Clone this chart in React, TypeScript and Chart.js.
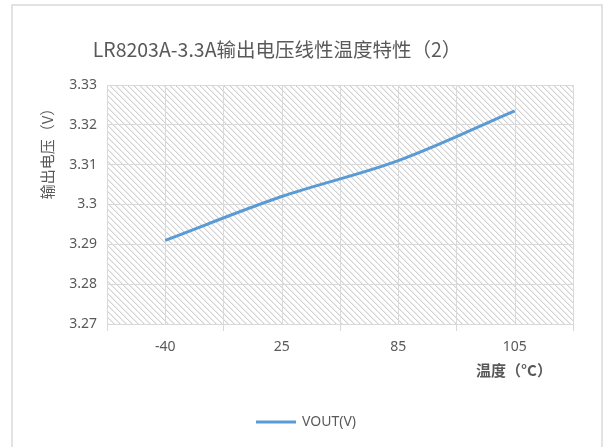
import React, { useEffect, useRef } from 'react';
import { Chart, registerables } from 'chart.js';

Chart.register(...registerables);

const categories = ['-40', '25', '85', '105'];
const vout = [3.291, 3.302, 3.311, 3.3235];
const yTickLabels = ['3.27', '3.28', '3.29', '3.3', '3.31', '3.32', '3.33'];
const yMin = 3.27;
const yMax = 3.33;
const yStep = 0.01;
const titleText = 'LR8203A-3.3A输出电压线性温度特性（2）';
const yAxisTitle = '输出电压（V）';
const xAxisTitle = '温度（°C）';
const seriesName = 'VOUT(V)';

const TEXT = '#595959';
const GRID = '#d9d9d9';
const LINE = '#5b9bd5';
const LATIN = '"Noto Sans", "Open Sans", sans-serif';
const CJK = '"Noto Sans CJK SC", "Noto Sans", sans-serif';

const decor = {
  id: 'decor',
  beforeDraw(chart: any) {
    const { ctx, chartArea: a } = chart;
    ctx.save();
    ctx.fillStyle = '#ffffff';
    ctx.fillRect(0, 0, chart.width, chart.height);
    ctx.strokeStyle = GRID;
    ctx.lineWidth = 1.5;
    ctx.strokeRect(12, 5, 590, 460);
    const p = document.createElement('canvas');
    p.width = 6;
    p.height = 6;
    const pc = p.getContext('2d')!;
    pc.fillStyle = '#ffffff';
    pc.fillRect(0, 0, 6, 6);
    for (let i = 0; i < 6; i++) {
      pc.fillStyle = '#d2d2d2';
      pc.fillRect(i, i, 1, 1);
      pc.fillStyle = '#ebebeb';
      pc.fillRect((i + 1) % 6, i, 1, 1);
    }
    const pat = ctx.createPattern(p, 'repeat');
    if (pat) {
      ctx.fillStyle = pat;
      ctx.fillRect(a.left, a.top, a.right - a.left, a.bottom - a.top);
    }
    ctx.restore();
  },
  beforeDatasetsDraw(chart: any) {
    const { ctx, chartArea: a } = chart;
    const xs = chart.scales.x;
    ctx.save();
    ctx.strokeStyle = GRID;
    ctx.lineWidth = 1;
    for (let i = 0; i < categories.length; i++) {
      const px = Math.round(xs.getPixelForValue(i)) + 0.5;
      ctx.beginPath();
      ctx.moveTo(px, a.top);
      ctx.lineTo(px, a.bottom);
      ctx.stroke();
    }
    ctx.restore();
  },
  afterDraw(chart: any) {
    const { ctx } = chart;
    ctx.save();
    ctx.fillStyle = TEXT;
    ctx.textAlign = 'center';
    ctx.textBaseline = 'middle';
    ctx.font = `19.5px ${CJK}`;
    ctx.fillText(titleText, 277, 50);

    ctx.save();
    ctx.translate(47, 150);
    ctx.rotate(-Math.PI / 2);
    ctx.font = `15px ${CJK}`;
    ctx.fillText(yAxisTitle, 0, 0);
    ctx.restore();

    ctx.font = `bold 15px ${CJK}`;
    ctx.fillText(xAxisTitle, 514, 370);

    ctx.strokeStyle = LINE;
    ctx.lineWidth = 3;
    ctx.beginPath();
    ctx.moveTo(256, 422);
    ctx.lineTo(296, 422);
    ctx.stroke();
    ctx.textAlign = 'left';
    ctx.font = `14px ${LATIN}`;
    ctx.fillText(seriesName, 302, 422);
    ctx.restore();
  },
};

export default function App() {
  const ref = useRef<HTMLCanvasElement | null>(null);
  useEffect(() => {
    if (!ref.current) return;
    const chart = new Chart(ref.current, {
      type: 'line',
      data: {
        labels: categories,
        datasets: [
          {
            label: seriesName,
            data: vout,
            borderColor: LINE,
            backgroundColor: LINE,
            borderWidth: 3,
            pointRadius: 0,
            tension: 0.35,
            fill: false,
          },
        ],
      },
      options: {
        responsive: false,
        animation: false,
        devicePixelRatio: 1,
        layout: { padding: { top: 85, right: 33, left: 0, bottom: 0 } },
        plugins: {
          legend: { display: false },
          title: { display: false },
          tooltip: { enabled: false },
        },
        scales: {
          x: {
            type: 'category',
            offset: true,
            grid: { offset: true, color: GRID, tickLength: 7, tickColor: GRID },
            border: { color: GRID },
            ticks: { color: TEXT, font: { family: LATIN, size: 14 }, padding: 8, maxRotation: 0 },
            afterFit: (s: any) => {
              s.height = 123;
            },
          },
          y: {
            min: yMin,
            max: yMax,
            grid: { color: GRID, drawTicks: false },
            border: { display: false },
            ticks: {
              stepSize: yStep,
              color: TEXT,
              font: { family: LATIN, size: 14 },
              padding: 10,
              callback: (_v: any, i: number) => yTickLabels[i],
            },
            afterFit: (s: any) => {
              s.width = 107;
            },
          },
        },
      },
      plugins: [decor],
    });
    return () => chart.destroy();
  }, []);
  return (
    <div style={{ position: 'absolute', left: 0, top: 0, width: 606, height: 447 }}>
      <canvas ref={ref} width={606} height={447} style={{ display: 'block' }} />
    </div>
  );
}
